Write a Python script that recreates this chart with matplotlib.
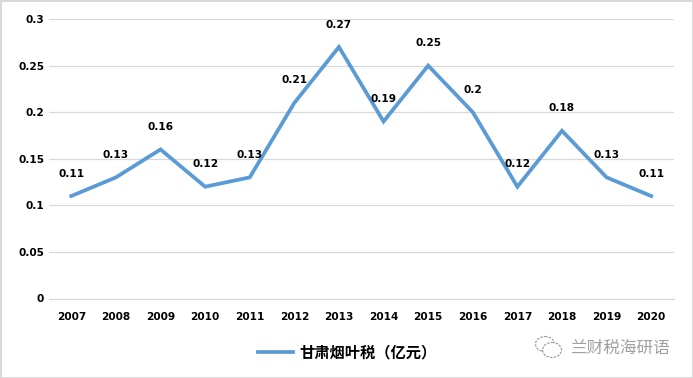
import matplotlib
matplotlib.use("Agg")
import matplotlib.pyplot as plt
from matplotlib.patches import Ellipse

plt.rcParams["font.family"] = ["Noto Sans CJK SC", "DejaVu Sans"]

YEARS = ["2007", "2008", "2009", "2010", "2011", "2012", "2013",
         "2014", "2015", "2016", "2017", "2018", "2019", "2020"]
TAX = [0.11, 0.13, 0.16, 0.12, 0.13, 0.21, 0.27,
       0.19, 0.25, 0.2, 0.12, 0.18, 0.13, 0.11]
YTICKS = [0, 0.05, 0.1, 0.15, 0.2, 0.25, 0.3]
YTICK_LABELS = ["0", "0.05", "0.1", "0.15", "0.2", "0.25", "0.3"]
SERIES = "甘肃烟叶税（亿元）"
WATERMARK = "兰财税海研语"

BLUE, GRID, INK, MARK = "#5b9bd5", "#d9d9d9", "#000000", "#a0a0a0"
W, H = 693, 378

fig = plt.figure(figsize=(W / 100, H / 100), dpi=100)
ax = fig.add_axes([49 / W, 1 - 298.5 / H, 624.5 / W, 279.5 / H])

x = range(len(YEARS))
line, = ax.plot(x, TAX, color=BLUE, lw=2.7, label=SERIES, solid_joinstyle="miter")
for i, v in zip(x, TAX):
    ax.annotate(f"{v:g}", (i, v), textcoords="offset points", xytext=(0, 14),
                ha="center", fontsize=7.6, fontweight="bold", color=INK,
                family=["DejaVu Sans"])

ax.set_xlim(-0.5, len(YEARS) - 0.5)
ax.set_ylim(0, 0.3)
ax.set_xticks(list(x), YEARS)
ax.set_yticks(YTICKS, YTICK_LABELS)
ax.tick_params(length=0, labelsize=7.6, labelcolor=INK)
ax.tick_params(axis="x", pad=10)
for lab in ax.get_xticklabels() + ax.get_yticklabels():
    lab.set_fontweight("bold")
    lab.set_family(["DejaVu Sans"])
ax.grid(axis="y", color=GRID, lw=0.9)
ax.set_axisbelow(True)
for s in ["top", "right", "left"]:
    ax.spines[s].set_visible(False)
ax.spines["bottom"].set_color(GRID)

fig.legend(handles=[line], loc="center", bbox_to_anchor=(347 / W, 1 - 352 / H),
           frameon=False, prop={"size": 11, "weight": "bold"},
           handlelength=2.3, handletextpad=0.4)

# 테두리
fig.patch.set_edgecolor(GRID)
fig.patch.set_linewidth(1.0)

# 워터마크 (위챗 아이콘 + 글자)
overlay = fig.add_axes([0, 0, 1, 1], facecolor="none")
overlay.set_xlim(0, W)
overlay.set_ylim(H, 0)
overlay.axis("off")
overlay.add_patch(Ellipse((545, 344), 19, 15, fill=False, ec=MARK, lw=0.9, ls=(0, (2, 1))))
overlay.add_patch(Ellipse((552, 350), 19, 15, facecolor="white", ec=MARK, lw=0.9, ls=(0, (2, 1))))
overlay.text(570, 348, WATERMARK, fontsize=12, color=MARK, va="center")

fig.savefig("out.png", dpi=100, edgecolor=fig.get_edgecolor())
